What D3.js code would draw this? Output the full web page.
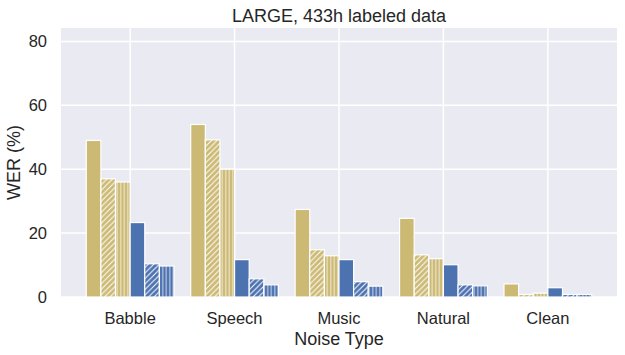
<!DOCTYPE html>
<html>
<head>
<meta charset="utf-8">
<script src="https://cdn.jsdelivr.net/npm/d3@7"></script>
<style>
  body { margin: 0; background: #fff; }
  text { font-family: "Liberation Sans", Arial, sans-serif; fill: #262626; }
</style>
</head>
<body>
<div id="chart"></div>
<script>
const categories = ["Babble", "Speech", "Music", "Natural", "Clean"];

// six bar series per noise type (gold = first three, blue = last three)
const goldPlain  = [49.0, 54.0, 27.4, 24.6, 4.1];
const goldDiag   = [37.0, 49.2, 14.8, 13.2, 0.8];
const goldVert   = [36.0, 40.0, 12.9, 12.0, 1.2];
const bluePlain  = [23.3, 11.7, 11.7, 10.1, 2.9];
const blueDiag   = [10.4, 5.7, 4.8, 3.8, 0.8];
const blueVert   = [9.7, 3.8, 3.4, 3.5, 0.8];

const yTicks = [0, 20, 40, 60, 80];

const GOLD = "#ccb974";
const BLUE = "#4c72b0";
const BAR_WIDTH = 0.14;

const series = [
    {values: goldPlain, color: GOLD, hatch: null},
    {values: goldDiag,  color: GOLD, hatch: "diag"},
    {values: goldVert,  color: GOLD, hatch: "vert"},
    {values: bluePlain, color: BLUE, hatch: null},
    {values: blueDiag,  color: BLUE, hatch: "diag"},
    {values: blueVert,  color: BLUE, hatch: "vert"}
];

const width = 625, height = 355;
const plot = {left: 61, right: 617, top: 28, bottom: 297};

const svg = d3.select("#chart").append("svg")
    .attr("width", width)
    .attr("height", height);

const defs = svg.append("defs");

const diag = defs.append("pattern")
    .attr("id", "hatch-diag")
    .attr("patternUnits", "userSpaceOnUse")
    .attr("width", 5.5).attr("height", 5.5);
diag.append("path")
    .attr("d", "M-1,6.5 L6.5,-1 M-1,1 L1,-1 M4.5,6.5 L6.5,4.5")
    .attr("stroke", "#fff").attr("stroke-width", 1);

const vert = defs.append("pattern")
    .attr("id", "hatch-vert")
    .attr("patternUnits", "userSpaceOnUse")
    .attr("width", 3.5).attr("height", 10);
vert.append("line")
    .attr("x1", 1.75).attr("x2", 1.75).attr("y1", 0).attr("y2", 10)
    .attr("stroke", "#fff").attr("stroke-width", 1).attr("stroke-opacity", 0.75);

const x = d3.scaleLinear()
    .domain([-0.662, categories.length - 1 + 0.662])
    .range([plot.left, plot.right]);

const y = d3.scaleLinear()
    .domain([0, 84.2])
    .range([plot.bottom, plot.top]);

// background
svg.append("rect")
    .attr("x", plot.left).attr("y", plot.top)
    .attr("width", plot.right - plot.left)
    .attr("height", plot.bottom - plot.top)
    .attr("fill", "#eaeaf2");

// grid
svg.append("g").selectAll("line")
    .data(yTicks)
    .enter().append("line")
    .attr("x1", plot.left).attr("x2", plot.right)
    .attr("y1", function(d) { return y(d); })
    .attr("y2", function(d) { return y(d); })
    .attr("stroke", "#fff").attr("stroke-width", 1.5);

svg.append("g").selectAll("line")
    .data(categories)
    .enter().append("line")
    .attr("x1", function(d, i) { return x(i); })
    .attr("x2", function(d, i) { return x(i); })
    .attr("y1", plot.top).attr("y2", plot.bottom)
    .attr("stroke", "#fff").attr("stroke-width", 1.5);

// bars
series.forEach(function(s, k) {
    var offset = (k - 2.5) * BAR_WIDTH;
    var g = svg.append("g");
    var bars = g.selectAll("g")
        .data(s.values)
        .enter().append("g");

    bars.append("rect")
        .attr("x", function(d, i) { return x(i + offset - BAR_WIDTH / 2); })
        .attr("width", x(BAR_WIDTH) - x(0))
        .attr("y", function(d) { return y(d); })
        .attr("height", function(d) { return y(0) - y(d); })
        .attr("fill", s.color);

    if (s.hatch) {
        bars.append("rect")
            .attr("x", function(d, i) { return x(i + offset - BAR_WIDTH / 2); })
            .attr("width", x(BAR_WIDTH) - x(0))
            .attr("y", function(d) { return y(d); })
            .attr("height", function(d) { return y(0) - y(d); })
            .attr("fill", "url(#hatch-" + s.hatch + ")");
    }

    bars.append("rect")
        .attr("x", function(d, i) { return x(i + offset - BAR_WIDTH / 2); })
        .attr("width", x(BAR_WIDTH) - x(0))
        .attr("y", function(d) { return y(d); })
        .attr("height", function(d) { return y(0) - y(d); })
        .attr("fill", "none")
        .attr("stroke", "#fff").attr("stroke-width", 1.2);
});

// cover anything below the axis
svg.append("rect")
    .attr("x", 0).attr("y", plot.bottom)
    .attr("width", width).attr("height", height - plot.bottom)
    .attr("fill", "#fff");

// y tick labels
svg.append("g").selectAll("text")
    .data(yTicks)
    .enter().append("text")
    .attr("x", 47)
    .attr("y", function(d) { return y(d); })
    .attr("dy", "0.35em")
    .attr("text-anchor", "end")
    .attr("font-size", 16.5)
    .text(function(d) { return d; });

// x tick labels
svg.append("g").selectAll("text")
    .data(categories)
    .enter().append("text")
    .attr("x", function(d, i) { return x(i); })
    .attr("y", 324)
    .attr("text-anchor", "middle")
    .attr("font-size", 16.5)
    .text(function(d) { return d; });

svg.append("text")
    .attr("x", (plot.left + plot.right) / 2)
    .attr("y", 345)
    .attr("text-anchor", "middle")
    .attr("font-size", 18)
    .text("Noise Type");

svg.append("text")
    .attr("transform", "translate(20," + ((plot.top + plot.bottom) / 2) + ") rotate(-90)")
    .attr("text-anchor", "middle")
    .attr("font-size", 18)
    .text("WER (%)");

svg.append("text")
    .attr("x", (plot.left + plot.right) / 2)
    .attr("y", 22)
    .attr("text-anchor", "middle")
    .attr("font-size", 18)
    .text("LARGE, 433h labeled data");
</script>
</body>
</html>
